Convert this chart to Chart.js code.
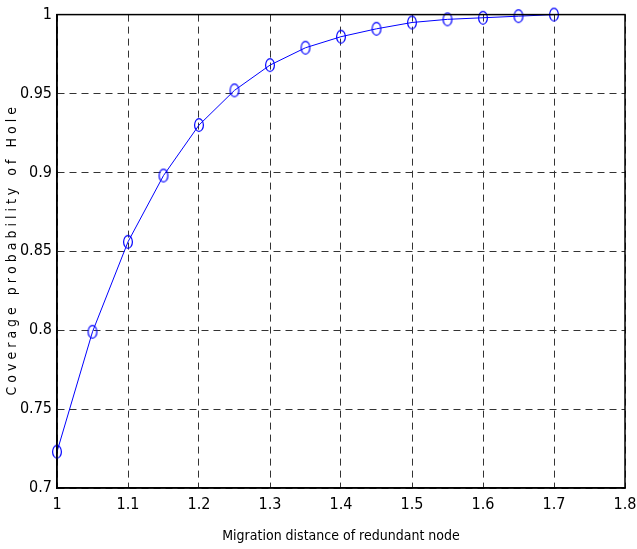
<!DOCTYPE html>
<html>
<head>
<meta charset="utf-8">
<script src="https://cdn.jsdelivr.net/npm/chart.js@4/dist/chart.umd.min.js"></script>
<style>
  body { margin: 0; background: #fff; }
  #wrap { width: 637px; height: 549px; }
</style>
</head>
<body>
<div id="wrap"><canvas id="myChart" width="637" height="549"></canvas></div>
<script>
// data
var distances = [1, 1.05, 1.1, 1.15, 1.2, 1.25, 1.3, 1.35, 1.4, 1.45, 1.5, 1.55, 1.6, 1.65, 1.7];
var coverage = [0.723, 0.799, 0.856, 0.898, 0.930, 0.952, 0.968, 0.979, 0.986, 0.991, 0.995, 0.997, 0.998, 0.999, 1.0];
var xTicks = [1, 1.1, 1.2, 1.3, 1.4, 1.5, 1.6, 1.7, 1.8];
var yTicks = [0.7, 0.75, 0.8, 0.85, 0.9, 0.95, 1];

var font = "'Liberation Sans Narrow', 'DejaVu Sans Condensed', sans-serif";

// ellipse marker like matlab 'o'
var marker = document.createElement('canvas');
marker.width = 12; marker.height = 16;
var mctx = marker.getContext('2d');
mctx.strokeStyle = '#0000ff';
mctx.lineWidth = 1.2;
mctx.beginPath();
mctx.ellipse(6, 8, 4.4, 6.4, 0, 0, Math.PI * 2);
mctx.stroke();

var points = distances.map(function (d, i) { return { x: d, y: coverage[i] }; });

var boxPlugin = {
  id: 'box',
  afterDraw: function (chart) {
    var a = chart.chartArea, c = chart.ctx;
    c.save();
    c.strokeStyle = '#000';
    c.lineWidth = 1.5;
    c.strokeRect(a.left, a.top, a.right - a.left, a.bottom - a.top);
    c.restore();
  }
};

function fmt(v) { return String(Math.round(v * 100) / 100); }

var ctx = document.getElementById('myChart').getContext('2d');
var myChart = new Chart(ctx, {
  type: 'line',
  data: {
    datasets: [{
      data: points,
      borderColor: '#0000ff',
      borderWidth: 1,
      fill: false,
      tension: 0,
      clip: false,
      pointStyle: marker,
      pointRadius: 6
    }]
  },
  options: {
    responsive: false,
    animation: false,
    layout: { padding: { top: 13, right: 0, left: 0, bottom: 0 } },
    plugins: { legend: { display: false }, tooltip: { enabled: false } },
    scales: {
      x: {
        type: 'linear',
        min: 1, max: 1.8,
        afterBuildTicks: function (s) { s.ticks = xTicks.map(function (v) { return { value: v }; }); },
        afterFit: function (s) { s.height = 61; s.paddingRight = 12; },
        grid: { color: '#333', lineWidth: 1, drawTicks: false },
        border: { display: true, color: '#000', width: 1.5, dash: [7, 5] },
        ticks: { color: '#000', padding: 7, maxRotation: 0, font: { family: font, size: 16 }, callback: fmt },
        title: { display: true, text: 'Migration distance of redundant node', color: '#000', padding: { top: 6 }, font: { family: font, size: 14 } }
      },
      y: {
        min: 0.7, max: 1,
        afterBuildTicks: function (s) { s.ticks = yTicks.map(function (v) { return { value: v }; }); },
        afterFit: function (s) { s.width = 57; },
        grid: { color: '#333', lineWidth: 1, drawTicks: false },
        border: { display: true, color: '#000', width: 1.5, dash: [7, 5] },
        ticks: { color: '#000', padding: 5, font: { family: font, size: 16 }, callback: fmt },
        title: { display: true, text: 'C o v e r a g e   p r o b a b i l i t y   o f   H o l e', color: '#000', padding: { bottom: 3 }, font: { family: font, size: 14 } }
      }
    }
  },
  plugins: [boxPlugin]
});
</script>
</body>
</html>
